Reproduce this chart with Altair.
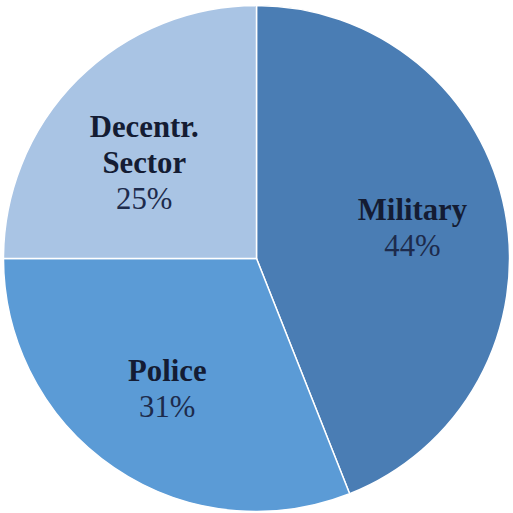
import altair as alt
import pandas as pd

categories = ["Military", "Police", "Decentr. Sector"]
name_lines = ["Military", "Police", "Decentr.\nSector"]
values = [44, 31, 25]
colors = ["#4a7db4", "#5b9bd6", "#a9c4e4"]

n_slots = max(n.count("\n") + 2 for n in name_lines)
rows = []
for i, (c, n, v) in enumerate(zip(categories, name_lines, values)):
    names = n.split("\n")
    row = {"category": c, "value": v, "order": i}
    for j in range(n_slots):
        row[f"b{j}"] = names[j] if j < len(names) else ""
        row[f"n{j}"] = f"{v}%" if j == len(names) else ""
    rows.append(row)
df = pd.DataFrame(rows)
total = sum(values)

theta_scale = alt.Scale(domain=[0, total])

pie = alt.Chart(df).mark_arc(radius=255, stroke="white", strokeWidth=1.5).encode(
    theta=alt.Theta("value:Q", stack=True, scale=theta_scale),
    order=alt.Order("order:O"),
    color=alt.Color("category:N", scale=alt.Scale(domain=categories, range=colors), legend=None),
)

text_base = alt.Chart(df).transform_window(
    cum="sum(value)", sort=[alt.SortField("order")], frame=[None, 0]
).transform_calculate(mid="datum.cum - datum.value / 2")

font = "Liberation Serif"
LINE_H = 36
layers = [pie]
for j in range(n_slots):
    for prefix, weight, col in (("b", "bold", "#141c33"), ("n", "normal", "#1d2b4c")):
        field = f"{prefix}{j}"
        if (df[field] == "").all():
            continue
        layers.append(
            text_base.transform_filter(f"datum.{field} != ''").mark_text(
                radius=160, dy=-18 + LINE_H * j, font=font, fontSize=31,
                fontWeight=weight, color=col, baseline="middle", align="center"
            ).encode(
                theta=alt.Theta("mid:Q", stack=None, scale=theta_scale),
                text=alt.Text(f"{field}:N"),
            )
        )

chart = alt.layer(*layers).properties(
    width=513, height=513, padding=0, background="white"
).configure_view(stroke=None)

chart.save("out.html", embed_options={"renderer": "svg", "actions": False})
